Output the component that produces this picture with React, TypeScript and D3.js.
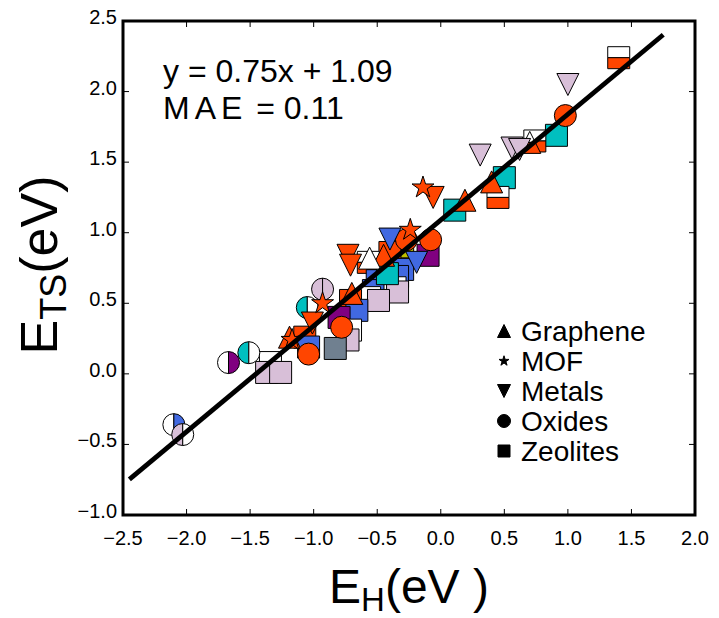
import React from "react";
import * as d3 from "d3";

// ---------- data ----------
const xTicks = [-2.5, -2.0, -1.5, -1.0, -0.5, 0.0, 0.5, 1.0, 1.5, 2.0];
const yTicks = [-1.0, -0.5, 0.0, 0.5, 1.0, 1.5, 2.0, 2.5];
const xDomain = [-2.5, 2.0];
const yDomain = [-1.0, 2.5];

const fitSlope = 0.75;
const fitIntercept = 1.09;
const fitRange = [-2.45, 1.75];
const maeValue = 0.11;

const legendNames = ["Graphene", "MOF", "Metals", "Oxides", "Zeolites"];
const legendShapes = ["triUp", "star", "triDown", "circle", "square"];

// Zeolites (squares) — fill codes: single colour, or "top/bottom"
const zeoliteEH = [1.40, 0.91, 0.74, 0.50, 0.45, 0.11, -0.30, -0.10, -0.40, -0.57, -0.30, -0.34, -0.50, -0.53, -0.36, -0.56, -0.34, -0.49, -0.42, -0.71, -0.66, -0.80, -0.71, -0.73, -0.83, -1.07, -1.04, -1.34, -1.37, -1.26];
const zeoliteETS = [2.24, 1.69, 1.65, 1.39, 1.25, 1.16, 0.90, 0.84, 0.86, 0.79, 0.74, 0.69, 0.66, 0.59, 0.61, 0.54, 0.58, 0.52, 0.71, 0.52, 0.45, 0.40, 0.31, 0.24, 0.18, 0.26, 0.19, 0.08, 0.01, 0.01];
const zeoliteFill = ["W/R", "C", "W/R", "C", "W/R", "C", "Y", "P", "R", "W/R", "B", "B", "B", "B", "W", "W", "L", "L", "C", "R", "B", "P", "W", "L", "G", "R", "B", "W", "L", "L"];

// Graphene (triangle up) — "top/bottom"
const grapheneEH = [0.70, 0.40, 0.19, -0.45, -0.56, -0.70, -1.19];
const grapheneETS = [1.64, 1.36, 1.23, 0.84, 0.82, 0.57, 0.26];
const grapheneFill = ["W/R", "R", "R", "R", "W", "R", "R"];

// Oxides (circles) — "left|right"
const oxideEH = [0.98, -0.08, -0.27, -0.78, -1.04, -0.93, -1.05, -1.51, -1.67, -2.10, -2.03];
const oxideETS = [1.83, 0.95, 0.95, 0.33, 0.14, 0.60, 0.47, 0.15, 0.08, -0.36, -0.43];
const oxideFill = ["R", "R", "R", "R", "R", "L/L", "C/W", "C/W", "W/P", "W/B", "L/W"];

// Metals (triangle down)
const metalEH = [1.00, 0.56, 0.62, 0.31, -0.06, -0.40, -0.19, -0.73, -0.71, -1.01];
const metalETS = [2.05, 1.60, 1.59, 1.55, 1.25, 0.955, 0.79, 0.84, 0.77, 0.36];
const metalFill = ["L", "L", "L", "L", "R", "B", "B", "R", "R", "R"];

// MOF (stars)
const mofEH = [-0.14, -0.24, -0.93, -1.17];
const mofETS = [1.32, 1.02, 0.50, 0.24];
const mofFill = ["R", "R", "R", "R"];

// ---------- styles ----------
const palette: Record<string, string> = {
  R: "#FF4500",
  C: "#00BFBF",
  B: "#4169E1",
  P: "#800080",
  L: "#D8BFD8",
  G: "#708090",
  Y: "#BFBF00",
  W: "#FFFFFF",
};

const W = 719;
const H = 618;
const margin = { left: 123, right: 695, top: 21, bottom: 515 };
const MS = 22;
const FONT = "'Liberation Sans', Arial, Helvetica, sans-serif";

function shapePaths(shape: string, s: number): { full: string; a: string; b: string } {
  const h = s / 2;
  if (shape === "square") {
    return {
      full: `M${-h},${-h}H${h}V${h}H${-h}Z`,
      a: `M${-h},${-h}H${h}V0H${-h}Z`,
      b: `M${-h},0H${h}V${h}H${-h}Z`,
    };
  }
  if (shape === "circle") {
    return {
      full: `M${-h},0A${h},${h} 0 1 0 ${h},0A${h},${h} 0 1 0 ${-h},0Z`,
      a: `M0,${-h}A${h},${h} 0 0 0 0,${h}Z`,
      b: `M0,${-h}A${h},${h} 0 0 1 0,${h}Z`,
    };
  }
  if (shape === "triUp") {
    return {
      full: `M0,${-h}L${h},${h}L${-h},${h}Z`,
      a: `M0,${-h}L${h / 2},0L${-h / 2},0Z`,
      b: `M${-h / 2},0L${h / 2},0L${h},${h}L${-h},${h}Z`,
    };
  }
  if (shape === "triDown") {
    return {
      full: `M0,${h}L${h},${-h}L${-h},${-h}Z`,
      a: `M${-h},${-h}L${h},${-h}L${h / 2},0L${-h / 2},0Z`,
      b: `M${-h / 2},0L${h / 2},0L0,${h}Z`,
    };
  }
  // star
  const R = h * 1.05;
  const r = R * 0.382;
  const pts: string[] = [];
  for (let i = 0; i < 10; i++) {
    const ang = -Math.PI / 2 + (i * Math.PI) / 5;
    const rad = i % 2 === 0 ? R : r;
    pts.push(`${(rad * Math.cos(ang)).toFixed(2)},${(rad * Math.sin(ang)).toFixed(2)}`);
  }
  const p = "M" + pts.join("L") + "Z";
  return { full: p, a: p, b: p };
}

function Marker({ shape, cx, cy, code, size }: { shape: string; cx: number; cy: number; code: string; size: number }) {
  const p = shapePaths(shape, size);
  const sw = 1;
  if (code.includes("/")) {
    const [ca, cb] = code.split("/");
    return (
      <g transform={`translate(${cx},${cy})`}>
        <path d={p.a} fill={palette[ca]} stroke="#000" strokeWidth={sw} strokeLinejoin="miter" />
        <path d={p.b} fill={palette[cb]} stroke="#000" strokeWidth={sw} strokeLinejoin="miter" />
      </g>
    );
  }
  return (
    <g transform={`translate(${cx},${cy})`}>
      <path d={p.full} fill={palette[code]} stroke="#000" strokeWidth={sw} strokeLinejoin="miter" />
    </g>
  );
}

export default function App() {
  const x = d3.scaleLinear().domain(xDomain).range([margin.left, margin.right]);
  const y = d3.scaleLinear().domain(yDomain).range([margin.bottom, margin.top]);
  const fmt = d3.format(".1f");

  const groups = [
    { shape: "square", xs: zeoliteEH, ys: zeoliteETS, fills: zeoliteFill },
    { shape: "triUp", xs: grapheneEH, ys: grapheneETS, fills: grapheneFill },
    { shape: "circle", xs: oxideEH, ys: oxideETS, fills: oxideFill },
    { shape: "triDown", xs: metalEH, ys: metalETS, fills: metalFill },
    { shape: "star", xs: mofEH, ys: mofETS, fills: mofFill },
  ];

  const fitLine = d3
    .line<number>()
    .x((d) => x(d))
    .y((d) => y(fitSlope * d + fitIntercept))(fitRange);

  const tickLen = 6;
  const legendX = 504;
  const legendY0 = 331;
  const legendDy = 30;
  const legendSizes = [13, 10, 13, 13, 12];

  return (
    <svg
      width={W}
      height={H}
      viewBox={`0 0 ${W} ${H}`}
      style={{ position: "absolute", left: 0, top: 0, background: "#fff" }}
      fontFamily={FONT}
    >
      <rect x={0} y={0} width={W} height={H} fill="#fff" />
      <defs>
        <clipPath id="plotClip">
          <rect x={margin.left} y={margin.top} width={margin.right - margin.left} height={margin.bottom - margin.top} />
        </clipPath>
      </defs>

      <g clipPath="url(#plotClip)">
        {groups.map((g, gi) =>
          g.xs.map((v, i) => (
            <Marker key={`${gi}-${i}`} shape={g.shape} cx={x(v)} cy={y(g.ys[i])} code={g.fills[i]} size={MS} />
          ))
        )}
        <path d={fitLine || ""} stroke="#000" strokeWidth={4.8} fill="none" />
      </g>

      {/* ticks */}
      {xTicks.map((t) => (
        <g key={`xt${t}`}>
          <line x1={x(t)} x2={x(t)} y1={margin.bottom} y2={margin.bottom - tickLen} stroke="#000" strokeWidth={1} />
          <line x1={x(t)} x2={x(t)} y1={margin.top} y2={margin.top + tickLen} stroke="#000" strokeWidth={1} />
          <text x={x(t)} y={545} textAnchor="middle" fontSize={20}>
            {fmt(t)}
          </text>
        </g>
      ))}
      {yTicks.map((t) => (
        <g key={`yt${t}`}>
          <line x1={margin.left} x2={margin.left + tickLen} y1={y(t)} y2={y(t)} stroke="#000" strokeWidth={1} />
          <line x1={margin.right} x2={margin.right - tickLen} y1={y(t)} y2={y(t)} stroke="#000" strokeWidth={1} />
          <text x={117} y={y(t) + 3} textAnchor="end" fontSize={20}>
            {fmt(t)}
          </text>
        </g>
      ))}

      {/* frame */}
      <rect
        x={margin.left}
        y={margin.top}
        width={margin.right - margin.left}
        height={margin.bottom - margin.top}
        fill="none"
        stroke="#000"
        strokeWidth={3}
      />

      {/* annotation */}
      <text x={163} y={82} fontSize={32}>
        {`y = ${fitSlope}x + ${fitIntercept}`}
      </text>
      <text x={163} y={119} fontSize={32}>
        <tspan letterSpacing={5}>MAE</tspan>
        {` = ${maeValue}`}
      </text>

      {/* legend */}
      {legendNames.map((name, i) => (
        <g key={name}>
          <g transform={`translate(${legendX},${legendY0 + i * legendDy})`}>
            <path d={shapePaths(legendShapes[i], legendSizes[i]).full} fill="#000" stroke="#000" strokeWidth={1} />
          </g>
          <text x={521} y={legendY0 + i * legendDy + 10} fontSize={28}>
            {name}
          </text>
        </g>
      ))}

      {/* axis labels */}
      <text x={409} y={603} textAnchor="middle" fontSize={48}>
        E<tspan fontSize={33} dy={8}>H</tspan>
        <tspan dy={-8}>(eV )</tspan>
      </text>
      <text transform={`translate(57,265) rotate(-90)`} textAnchor="middle" fontSize={52}>
        E<tspan fontSize={36} dy={9}>TS</tspan>
        <tspan dy={-9}>(eV)</tspan>
      </text>
    </svg>
  );
}
